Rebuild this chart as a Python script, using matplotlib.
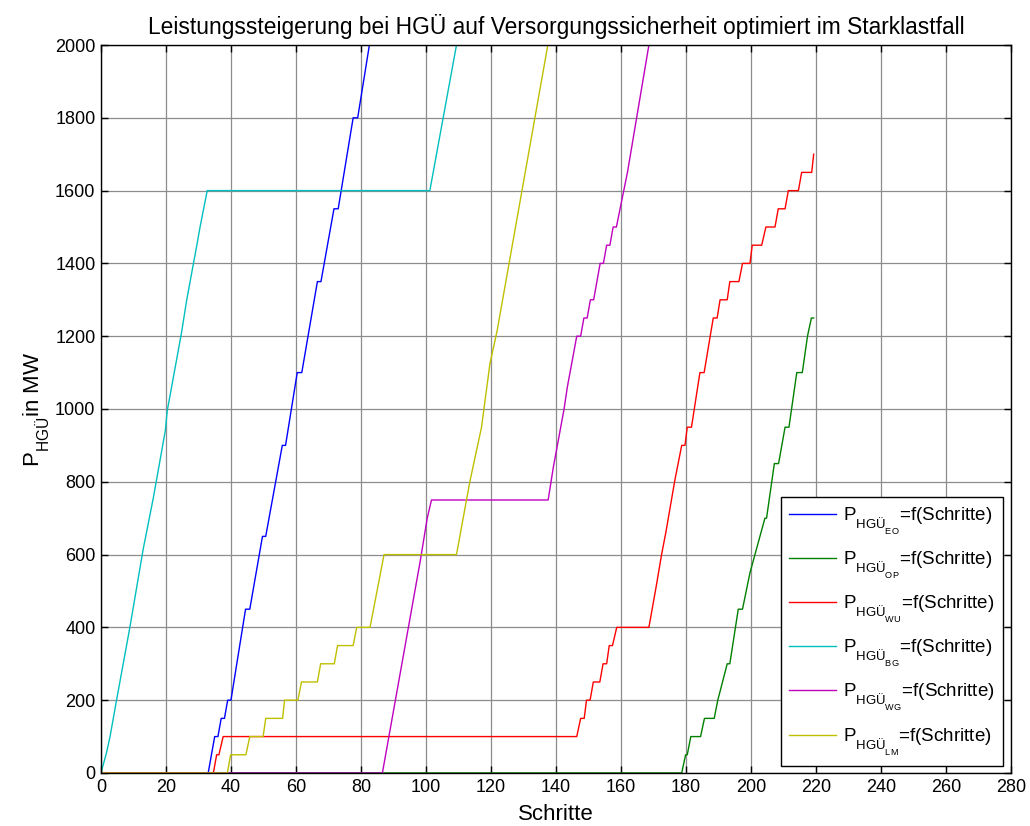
import matplotlib
matplotlib.use("Agg")
import matplotlib.pyplot as plt
import matplotlib._mathtext as mathtext_intern
import numpy as np

plt.rcParams['font.family'] = ['Liberation Sans', 'DejaVu Sans']
plt.rcParams['mathtext.fontset'] = 'custom'
plt.rcParams['mathtext.rm'] = 'Liberation Sans'
plt.rcParams['mathtext.it'] = 'Liberation Sans:italic'
plt.rcParams['mathtext.bf'] = 'Liberation Sans:bold'
# tiefere Indizes (wie TeX-Interpreter in MATLAB)
mathtext_intern.FontConstantsBase.sub1 = 0.85

# Stuetzpunkte der Kurven (Schritt, Leistung in MW)
eo_x = [0, 33, 35, 36, 37, 38, 39, 40, 44.5, 45.8, 49.7, 50.7, 55.8, 56.8, 60.4, 61.8,
        66.6, 67.7, 71.7, 73, 77.6, 79, 82.6, 220]
eo_y = [0, 0, 100, 100, 150, 150, 200, 200, 450, 450, 650, 650, 900, 900, 1100, 1100,
        1350, 1350, 1550, 1550, 1800, 1800, 2000, 2000]

op_x = [0, 178.7, 179.9, 180.4, 181.5, 184.5, 185.7, 188.7, 189.8, 192.7, 193.5, 196.1,
        197.4, 199.7, 204.3, 204.8, 207.2, 208.5, 210.5, 211.7, 214.1, 215.8, 217.4, 218.6, 219.3]
op_y = [0, 0, 50, 50, 100, 100, 150, 150, 200, 300, 300, 450,
        450, 550, 700, 700, 850, 850, 950, 950, 1100, 1100, 1200, 1250, 1250]

wu_x = [0, 34.6, 35.6, 36.3, 37.6, 146.4, 147.6, 148.7, 149.4, 150.5, 151.5, 153.5,
        154.5, 155.6, 156.4, 157.4, 158.7, 168.6, 170.8, 172.5, 173.8, 176.6, 178.7, 179.7,
        180.4, 181.7, 184.3, 185.6, 188.4, 189.6, 190.5, 192.7, 193.5, 196.3, 197.4, 199.7,
        200.4, 203.3, 204.6, 207.4, 208.4, 210.5, 211.5, 214.6, 215.6, 218.7, 219.3]
wu_y = [0, 0, 50, 50, 100, 100, 150, 150, 200, 200, 250, 250,
        300, 300, 350, 350, 400, 400, 510, 600, 660, 805, 900, 900,
        950, 950, 1100, 1100, 1250, 1250, 1300, 1300, 1350, 1350, 1400, 1400,
        1450, 1450, 1500, 1500, 1550, 1550, 1600, 1600, 1650, 1650, 1700]

bg_x = [0, 1.7, 2.8, 4.8, 8.9, 13, 16.1, 19.8, 20.4, 24.8, 26.4, 29.4, 30.5, 32.7,
        101.2, 109.4, 220]
bg_y = [0, 55, 100, 200, 400, 615, 755, 940, 995, 1210, 1300, 1445, 1500, 1600,
        1600, 2000, 2000]

wg_x = [0, 86.6, 98.2, 100.4, 101.7, 137.6, 139.2, 142.5, 143.5, 146.4, 147.6, 148.6,
        149.6, 150.6, 151.6, 153.6, 154.6, 155.6, 156.6, 157.6, 158.6, 162, 168.6, 220]
wg_y = [0, 0, 580, 700, 750, 750, 840, 1000, 1060, 1200, 1200, 1250,
        1250, 1300, 1300, 1400, 1400, 1450, 1450, 1500, 1500, 1650, 2000, 2000]

lm_x = [0, 38.9, 39.9, 44.6, 45.8, 49.9, 50.7, 55.9, 56.5, 60.6, 61.7, 66.6, 67.6,
        71.8, 72.8, 77.6, 78.7, 82.8, 87.1, 109.4, 113.5, 117.1, 119.7, 121.9, 137.5, 220]
lm_y = [0, 0, 50, 50, 100, 100, 150, 150, 200, 200, 250, 250, 300,
        300, 350, 350, 400, 400, 600, 600, 800, 950, 1125, 1215, 2000, 2000]

namen = ['EO', 'OP', 'WU', 'BG', 'WG', 'LM']
farben = [(0, 0, 1), (0, 0.5, 0), (1, 0, 0), (0, 0.75, 0.75), (0.75, 0, 0.75), (0.75, 0.75, 0)]
kurven = [(eo_x, eo_y), (op_x, op_y), (wu_x, wu_y), (bg_x, bg_y), (wg_x, wg_y), (lm_x, lm_y)]

fig = plt.figure(figsize=(10.3, 8.26), dpi=100)
ax = fig.add_axes([0.098, 0.0642, 0.8835, 0.8813])

for (x, y), name, farbe in zip(kurven, namen, farben):
    label = r'P$_{\mathrm{HGÜ}_{\mathrm{' + name + r'}}}$=f(Schritte)'
    ax.plot(x, y, color=farbe, linewidth=1.0, label=label)

ax.set_xlim(0, 280)
ax.set_ylim(0, 2000)
ax.set_xticks(np.arange(0, 281, 20))
ax.set_yticks(np.arange(0, 2001, 200))
ax.grid(True, color='#8c8c8c', linewidth=0.9)
ax.set_axisbelow(True)
ax.tick_params(direction='in', top=True, right=True, length=5, width=1,
               labelsize=13, pad=4)
for s in ax.spines.values():
    s.set_linewidth(1.0)
    s.set_zorder(5)

ax.set_title('Leistungssteigerung bei HGÜ auf Versorgungssicherheit optimiert im Starklastfall',
             fontsize=16.4, pad=8)
ax.set_xlabel('Schritte', fontsize=16, labelpad=6)
ax.set_ylabel(r'P$_{\mathrm{HGÜ}}$in MW', fontsize=16, labelpad=2)

leg = ax.legend(loc='lower right', bbox_to_anchor=(0.991, 0.0096), borderaxespad=0,
                fontsize=13.5, handlelength=2.5, labelspacing=0.68, handletextpad=0.35,
                fancybox=False, framealpha=1, edgecolor='black', borderpad=0.45)
leg.get_frame().set_linewidth(1.0)

fig.savefig('out.png', dpi=100)
